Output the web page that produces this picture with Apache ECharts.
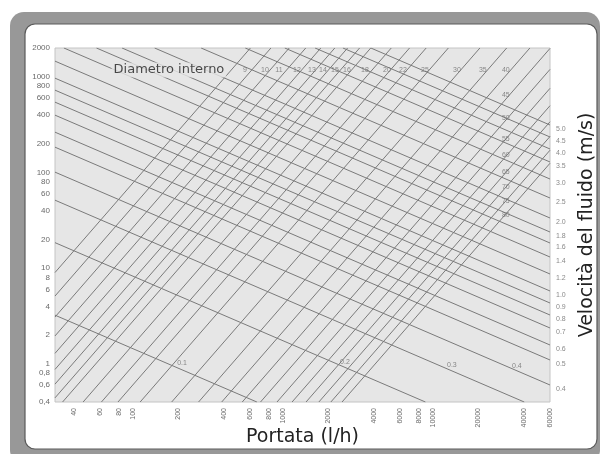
<!DOCTYPE html>
<html><head><meta charset="utf-8">
<script src="https://cdn.jsdelivr.net/npm/echarts@6/dist/echarts.min.js"></script>
<style>html,body{margin:0;padding:0;background:#fff}#c{width:602px;height:454px}</style>
</head><body><div id="c"></div>
<script>
// ---- data (flow Q in l/h, pressure drop P in mm/m) ----
const xTicks = [40,60,80,100,200,400,600,800,1000,2000,4000,6000,8000,10000,20000,40000,60000];
const yTicks = [0.4,0.6,0.8,1,2,4,6,8,10,20,40,60,80,100,200,400,600,800,1000,2000];

// internal diameter lines (mm): start / end points [Q, P]
const diameters = [8,9,10,11,12,13,14,15,16,18,20,22,25,30,35,40,45,50,55,60,65,70,75,80];
const diaStart = [[30,9.02],[30,5.12],[30,3.09],[30,1.96],[30,1.29],[30,0.876],[30,0.615],[30,0.442],
  [33.7,0.4],[46.2,0.4],[61.2,0.4],[78.9,0.4],[110.9,0.4],[180,0.4],[272,0.4],[388,0.4],
  [532,0.4],[704,0.4],[907,0.4],[1143,0.4],[1417,0.4],[1725,0.4],[2074,0.4],[2462,0.4]];
const diaEnd = [[603,2000],[826,2000],[1094,2000],[1410,2000],[1777,2000],[2203,2000],[2682,2000],[3224,2000],
  [3827,2000],[5242,2000],[6943,2000],[8958,2000],[12600,2000],[20450,2000],[30850,2000],[44050,2000],
  [60000,1981],[60000,1195],[60000,758],[60000,499],[60000,339],[60000,238],[60000,171],[60000,125]];

// fluid velocity lines (m/s): start / end points [Q, P]
const velocities = [0.1,0.2,0.3,0.4,0.5,0.6,0.7,0.8,0.9,1.0,1.2,1.4,1.6,1.8,2.0,2.5,3.0,3.5,4.0,4.5,5.0];
const velStart = [[30,3.23],[30,18.5],[30,51.4],[30,100.9],[30,184],[30,264],[30,397.5],[30,543.5],[30,725.5],[30,968],[30,1458],
  [34.4,2000],[56.7,2000],[84,2000],[138.5,2000],[282.8,2000],[557,2000],[1022,2000],[1627,2000],[2496,2000],[3830,2000]];
const velEnd = [[666,0.4],[8860,0.4],[40400,0.4],[60000,0.602],[60000,1.099],[60000,1.576],[60000,2.373],[60000,3.243],[60000,4.33],
  [60000,5.78],[60000,8.70],[60000,13.09],[60000,18.34],[60000,23.89],[60000,33.46],[60000,54.15],[60000,85.5],[60000,128.8],
  [60000,176.1],[60000,235],[60000,313.6]];

// label anchors [Q, P]
const diaLabels = ['9','10','11','12','13','14','15','16','18','20','22','25','30','35','40','45','50','55','60','65','70','75','80'];
const diaLabelQ = [554,754,934,1231,1550,1836,2207,2653,3498,4902,6268,8786,14360,21400,30470,30470,30470,30470,30470,30470,30470,30470,30470];
const diaLabelP = [1180,1180,1180,1180,1180,1180,1180,1180,1180,1180,1180,1180,1180,1180,1180,645,371,224,152,101,70.5,50.4,36.0];
const velInnerLabels = ['0.1','0.2','0.3','0.4'];
const velInnerQ = [211,2573,13300,36070];
const velInnerP = [1.02,1.05,0.97,0.95];
const titleAnchor = [172.6, 1180];

// ---- chart ----
const L = Math.log10;
const LINE = '#7a7a7a';
function fmtX(v){ return String(Math.round(Math.pow(10, v))); }
function fmtY(v){ const n = Math.pow(10, v); if (n < 1) return String(Math.round(n*10)/10).replace('.', ','); return String(Math.round(n)); }

const series = [];
diameters.forEach((d, i) => {
  series.push({ type:'line', name:'D'+d, silent:true, symbol:'none',
    data:[[L(diaStart[i][0]), L(diaStart[i][1])],[L(diaEnd[i][0]), L(diaEnd[i][1])]],
    lineStyle:{color:LINE, width:1} });
});
velocities.forEach((v, i) => {
  const s = { type:'line', name:'v'+v, silent:true, symbol:'none',
    data:[[L(velStart[i][0]), L(velStart[i][1])],[L(velEnd[i][0]), L(velEnd[i][1])]],
    lineStyle:{color:LINE, width:1} };
  if (velEnd[i][0] >= 60000) {
    s.endLabel = { show:true, formatter: v.toFixed(1), fontSize:7, color:'#8a8a8a', distance:6, offset:[0,4], fontFamily:'Liberation Sans' };
  }
  series.push(s);
});
series.push({ type:'scatter', symbolSize:0, silent:true, z:5,
  data: diaLabels.map((t, i) => [L(diaLabelQ[i]), L(diaLabelP[i]), t]),
  label:{ show:true, position:'inside', formatter: p => p.data[2], fontSize:7, color:'#6e6e6e', fontFamily:'Liberation Sans' } });
series.push({ type:'scatter', symbolSize:0, silent:true, z:5,
  data: velInnerLabels.map((t, i) => [L(velInnerQ[i]), L(velInnerP[i]), t]),
  label:{ show:true, position:'inside', formatter: p => p.data[2], fontSize:7, color:'#6e6e6e', fontFamily:'Liberation Sans' } });
series.push({ type:'scatter', symbolSize:0, silent:true, z:6,
  data: [[L(titleAnchor[0]), L(titleAnchor[1]), 'Diametro interno']],
  label:{ show:true, position:'inside', formatter: p => p.data[2], fontSize:13, color:'#1e1e1e',
    fontFamily:'DejaVu Sans', backgroundColor:'#e6e6e6', padding:[1,2] } });

const chart = echarts.init(document.getElementById('c'), null, {renderer:'canvas'});
chart.setOption({
  animation:false,
  backgroundColor:'#ffffff',
  graphic:[
    { type:'rect', z:-10, silent:true, shape:{x:10, y:12, width:590, height:452, r:14}, style:{fill:'#989898'} },
    { type:'rect', z:-9, silent:true, shape:{x:25, y:24, width:572, height:425, r:10}, style:{fill:'#ffffff', stroke:'#5a5a5a', lineWidth:1.2} }
  ],
  grid:{ left:55, right:52, top:48, bottom:52, containLabel:false, outerBoundsMode:'none',
    show:true, backgroundColor:'#e6e6e6', borderColor:'#c4c4c4', borderWidth:1 },
  xAxis:{ type:'value', min:L(30), max:L(60000),
    axisLine:{show:false}, axisTick:{show:false}, splitLine:{show:false},
    axisLabel:{ customValues: xTicks.map(L), formatter: fmtX, rotate:90, fontSize:7, color:'#6a6a6a', margin:6, fontFamily:'Liberation Sans' },
    name:'Portata (l/h)', nameLocation:'middle', nameGap:26, nameMoveOverlap:false,
    nameTextStyle:{ fontSize:19, color:'#222', fontFamily:'DejaVu Sans' } },
  yAxis:[
    { type:'value', min:L(0.4), max:L(2000), position:'left',
      axisLine:{show:false}, axisTick:{show:false}, splitLine:{show:false},
      axisLabel:{ customValues: yTicks.map(L), formatter: fmtY, fontSize:8, color:'#6a6a6a', margin:5, fontFamily:'Liberation Sans' } },
    { type:'value', min:L(0.4), max:L(2000), position:'right',
      axisLine:{show:false}, axisTick:{show:false}, splitLine:{show:false}, axisLabel:{show:false},
      name:'Velocità del fluido (m/s)', nameLocation:'middle', nameGap:28, nameRotate:90, nameMoveOverlap:false,
      nameTextStyle:{ fontSize:19, color:'#222', fontFamily:'DejaVu Sans' } }
  ],
  series: series
});
</script></body></html>
